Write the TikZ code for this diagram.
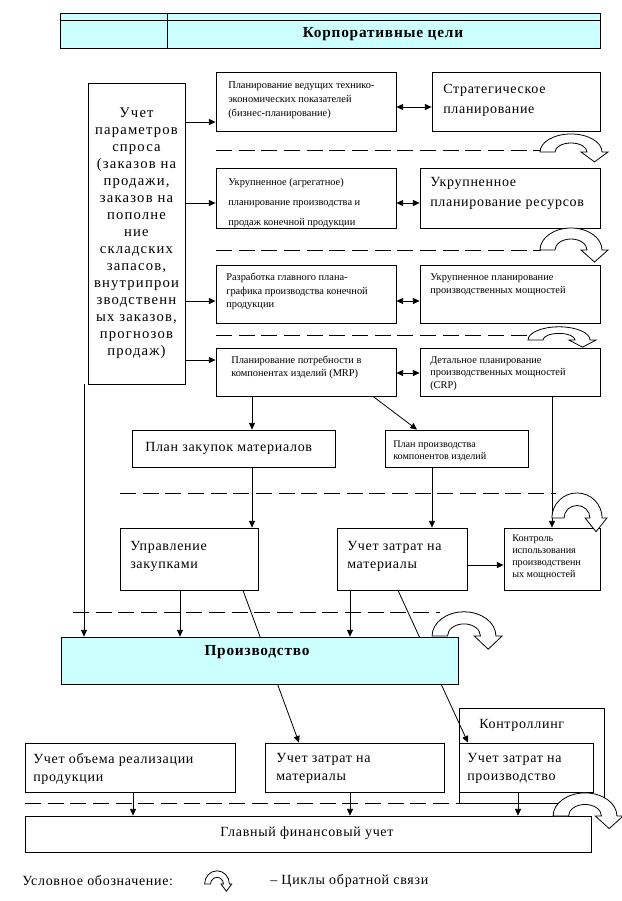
\documentclass[tikz,border=0pt]{standalone}
\usepackage{fontspec}
\setmainfont{Liberation Serif}
\newfontfamily\spaced[LetterSpace=5]{Liberation Serif}
\newfontfamily\wider[LetterSpace=8]{Liberation Serif}
\usetikzlibrary{arrows.meta,fit,backgrounds,positioning}
\definecolor{goalcyan}{HTML}{CCFFFF}
\tikzset{
  blk/.style={draw, fill=white, inner sep=0pt, line width=0.6pt},
  hl/.style={blk, fill=goalcyan},
  txt/.style={anchor=north west, inner sep=0pt, align=left,
    font=\spaced\fontsize{10.5}{15}\selectfont},
  sml/.style={anchor=north west, inner sep=0pt, align=left,
    font=\fontsize{7.8}{10.5}\selectfont},
  head/.style={inner sep=0pt, font=\spaced\bfseries\fontsize{11.5}{14}\selectfont},
  arr/.style={-{Triangle[length=5pt,width=4.5pt]}, line width=0.6pt},
  darr/.style={{Triangle[length=5pt,width=4.5pt]}-{Triangle[length=5pt,width=4.5pt]}, line width=0.6pt},
  fbline/.style={dash pattern=on 12pt off 5pt, line width=0.6pt},
  loopsym/.pic={
    \draw[fill=white, line width=0.6pt]
      (-31,0) arc[start angle=180, end angle=360, x radius=31, y radius=22]
      -- (37,0) -- (23.5,12) -- (10,0) -- (16,0)
      arc[start angle=0, end angle=-180, x radius=16, y radius=11] -- cycle;
  }
}
\begin{document}
\begin{tikzpicture}[x=0.75pt,y=-0.75pt]
  \useasboundingbox (0,0) rectangle (622,901);

  % corporate goals
  \node[hl, fit={(60,13) (600,48)}] (goals) {};
  \draw[line width=0.6pt] (goals.north west |- 0,20) -- (goals.north east |- 0,20);
  \draw[line width=0.6pt] (goals.north -| 167,0) -- (goals.south -| 167,0);
  \node[head] (t-goals) at (383,34) {Корпоративные цели};

  % demand
  \node[blk, fit={(88,83) (185,384)}] (demand) {};
  \node[anchor=north, inner sep=0pt, align=center,
    font=\wider\fontsize{11}{12.75}\selectfont] (t-demand) at (136.5,108)
    {Учет\\параметров\\спроса\\(заказов на\\продажи,\\заказов на\\пополне\\ние\\складских\\запасов,\\внутрипрои\\зводственн\\ых заказов,\\прогнозов\\продаж)};

  % planning levels
  \node[blk, fit={(216,72) (396,131)}] (bizplan) {};
  \node[blk, fit={(432,72) (600,131)}] (strat) {};
  \node[blk, fit={(216,168) (396,228)}] (aggr) {};
  \node[blk, fit={(420,168) (600,228)}] (resplan) {};
  \node[blk, fit={(216,265) (396,323)}] (mps) {};
  \node[blk, fit={(420,265) (600,323)}] (rccp) {};
  \node[blk, fit={(216,348) (396,396)}] (mrp) {};
  \node[blk, fit={(420,348) (600,396)}] (crp) {};
  \node[sml] (t-bizplan) at (228,81) {Планирование ведущих технико-\\экономических показателей\\(бизнес-планирование)};
  \node[txt] (t-strat) at (443,84) {Стратегическое\\планирование};
  \node[sml, font=\fontsize{7.8}{15}\selectfont] (t-aggr) at (228,178) {Укрупненное (агрегатное)\\планирование производства и\\продаж конечной продукции};
  \node[txt] (t-resplan) at (430,177) {Укрупненное\\планирование ресурсов};
  \node[sml, font=\fontsize{7.8}{10}\selectfont] (t-mps) at (226,273) {Разработка главного плана-\\графика производства конечной\\продукции};
  \node[sml, font=\fontsize{7.8}{10}\selectfont] (t-rccp) at (430,273) {Укрупненное планирование\\производственных мощностей};
  \node[sml, font=\fontsize{7.8}{9.5}\selectfont] (t-mrp) at (231,356) {Планирование потребности в\\компонентах изделий (MRP)};
  \node[sml, font=\fontsize{7.8}{9.5}\selectfont] (t-crp) at (430,356) {Детальное планирование\\производственных мощностей\\(CRP)};

  % plans and execution
  \node[blk, fit={(132,430) (335,467)}] (buyplan) {};
  \node[blk, fit={(385,430) (528,467)}] (partplan) {};
  \node[blk, fit={(120,528) (258,590)}] (purch) {};
  \node[blk, fit={(337,528) (467,590)}] (matcost) {};
  \node[blk, fit={(504,528) (600,590)}] (capctl) {};
  \node[txt] (t-buyplan) at (145,442) {План закупок материалов};
  \node[sml, font=\fontsize{7.6}{8.5}\selectfont] (t-partplan) at (393,441) {План производства\\компонентов изделий};
  \node[txt, font=\spaced\fontsize{10.5}{13.5}\selectfont] (t-purch) at (130,541) {Управление\\закупками};
  \node[txt, font=\spaced\fontsize{10.5}{13.5}\selectfont] (t-matcost) at (347,541) {Учет затрат на\\материалы};
  \node[sml, font=\fontsize{7.6}{9}\selectfont] (t-capctl) at (512,535) {Контроль\\использования\\производственн\\ых мощностей};

  % production and accounting
  \node[hl, fit={(61,637) (458,684)}] (prod) {};
  \node[head] (t-prod) at (257,652) {Производство};
  \node[blk, fill=none, fit={(459,708) (604,803)}] (ctrlng) {};
  \node[blk, fit={(25,743) (235,792)}] (sales) {};
  \node[blk, fit={(265,743) (444,792)}] (matacc) {};
  \node[blk, fit={(459,743) (593,792)}] (prodcost) {};
  \node[blk, fit={(25,816) (591,852)}] (ledger) {};
  \node[txt] (t-ctrlng) at (479,719) {Контроллинг};
  \node[txt, font=\spaced\fontsize{10.5}{13.5}\selectfont] (t-sales) at (33,753) {Учет объема реализации\\продукции};
  \node[txt, font=\spaced\fontsize{10.5}{13.5}\selectfont] (t-matacc) at (276,753) {Учет затрат на\\материалы};
  \node[txt, font=\spaced\fontsize{10.5}{13.5}\selectfont] (t-prodcost) at (467,753) {Учет затрат на\\производство};
  \node[txt, anchor=center] (t-ledger) at (307,833) {Главный финансовый учет};

  % arrows
  \draw[arr] (demand.east |- 0,122) -- (bizplan.west |- 0,122);
  \draw[arr] (demand.east |- 0,203) -- (aggr.west |- 0,203);
  \draw[arr] (demand.east |- 0,301) -- (mps.west |- 0,301);
  \draw[arr] (demand.east |- 0,360) -- (mrp.west |- 0,360);
  \draw[darr] (bizplan.east |- 0,107) -- (strat.west |- 0,107);
  \draw[darr] (aggr.east |- 0,203) -- (resplan.west |- 0,203);
  \draw[darr] (mps.east |- 0,301) -- (rccp.west |- 0,301);
  \draw[darr] (mrp.east |- 0,373) -- (crp.west |- 0,373);
  \draw[arr] (mrp.south -| 252,0) -- (buyplan.north -| 252,0);
  \draw[arr] (mrp.south -| 373,0) -- (partplan.north -| 417,0);
  \draw[arr] (buyplan.south -| 252,0) -- (purch.north -| 252,0);
  \draw[arr] (partplan.south -| 432,0) -- (matcost.north -| 432,0);
  \draw[arr] (crp.south -| 552,0) -- (capctl.north -| 552,0);
  \draw[arr] (matcost.east |- 0,565) -- (capctl.west |- 0,565);
  \draw[arr] (demand.south -| 84,0) -- (prod.north -| 84,0);
  \draw[arr] (purch.south -| 180,0) -- (prod.north -| 180,0);
  \draw[arr] (matcost.south -| 350,0) -- (prod.north -| 350,0);
  \begin{pgfonlayer}{background}
    \draw[arr] (purch.south -| 243,0) -- (matacc.north -| 299,0);
    \draw[arr] (matcost.south -| 398,0) -- (prodcost.north -| 468,0);
  \end{pgfonlayer}
  \draw[arr] (sales.south -| 133,0) -- (ledger.north -| 133,0);
  \draw[arr] (matacc.south -| 350,0) -- (ledger.north -| 350,0);
  \draw[arr] (prodcost.south -| 518,0) -- (ledger.north -| 518,0);

  % feedback loops
  \draw[fbline] (216,150) -- (541,150);
  \draw[fbline] (216,250) -- (541,250);
  \draw[fbline] (216,335) -- (532,335);
  \draw[fbline] (120,493) -- (556,493);
  \draw[fbline] (73,612) -- (440,612);
  \draw[fbline] (25,803) -- (459,803);
  \pic[yscale=0.82] at (571,152) {loopsym};
  \pic at (571,250) {loopsym};
  \pic[yscale=0.6] at (559,340) {loopsym};
  \pic[xscale=0.81, yscale=1.14] at (577,518) {loopsym};
  \pic[xscale=1.03, yscale=1.1] at (464,636) {loopsym};
  \pic[xscale=1.03, yscale=1.05] at (585,816) {loopsym};

  % legend
  \node[txt, anchor=west] (t-legend) at (22,881) {Условное обозначение:};
  \pic[xscale=0.4, yscale=0.6] at (217,884) {loopsym};
  \node[txt, anchor=west] (t-legend2) at (270,881) {– Циклы обратной связи};
\end{tikzpicture}
\end{document}
